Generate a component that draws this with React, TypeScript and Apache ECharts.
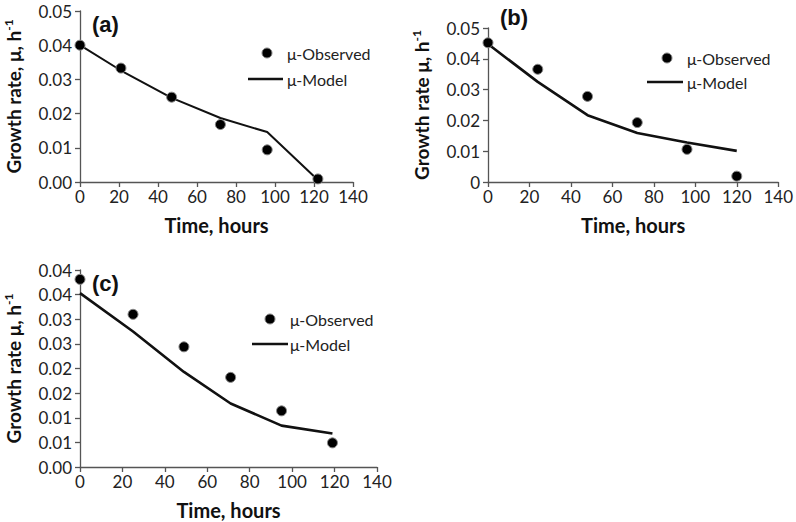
import React, { useEffect, useRef } from 'react';
import * as echarts from 'echarts';

// Panel (a)
const timeA = [0, 21, 47, 72, 96, 122];
const obsA = [0.04, 0.0333, 0.0248, 0.0168, 0.0094, 0.0009];
const modelA = [0.04, 0.0326, 0.0246, 0.0187, 0.0146, 0.0006];
// Panel (b)
const timeB = [0, 24, 48, 72, 96, 120];
const obsB = [0.0452, 0.0366, 0.0278, 0.0193, 0.0106, 0.0019];
const modelB = [0.0448, 0.0325, 0.0217, 0.0159, 0.0128, 0.0101];
// Panel (c)
const timeC = [0, 25, 49, 71, 95, 119];
const obsC = [0.0381, 0.031, 0.0244, 0.0182, 0.0114, 0.0049];
const modelC = [0.0353, 0.0275, 0.0193, 0.0129, 0.0084, 0.0068];

const panelLabels = ['(a)', '(b)', '(c)'];
const yTitles = ['Growth rate, μ, h{sup|-1}', 'Growth rate μ, h{sup|-1}', 'Growth rate μ, h{sup|-1}'];
const xTitle = 'Time, hours';
const obsName = 'μ-Observed';
const modelName = 'μ-Model';

const FONT = 'Lato';
const AXIS_COLOR = '#555';
const TEXT_COLOR = '#222';

function pairs(xs: number[], ys: number[]) {
  return xs.map((x, i) => [x, ys[i]]);
}

function fmt2(v: number) {
  return (Math.round(v * 100 + 1e-9) / 100).toFixed(2);
}

function xAxisFor(gridIndex: number) {
  return {
    type: 'value',
    gridIndex,
    min: 0,
    max: 140,
    interval: 20,
    name: xTitle,
    nameLocation: 'middle',
    nameGap: 33,
    nameTextStyle: { fontFamily: FONT, fontWeight: 'bold', fontSize: 20, color: '#111' },
    axisLine: { show: true, lineStyle: { color: AXIS_COLOR, width: 1.3 } },
    axisTick: { show: true, length: 5, lineStyle: { color: AXIS_COLOR, width: 1.3 } },
    axisLabel: { fontFamily: FONT, fontSize: 17, color: TEXT_COLOR, margin: 6 },
    splitLine: { show: false },
  };
}

function yAxisFor(gridIndex: number, max: number, interval: number, formatter: (v: number) => string) {
  return {
    type: 'value',
    gridIndex,
    min: 0,
    max,
    interval,
    name: yTitles[gridIndex],
    nameLocation: 'middle',
    nameGap: 56,
    nameTextStyle: {
      fontFamily: FONT,
      fontWeight: 'bold',
      fontSize: 19,
      color: '#111',
      rich: {
        sup: { fontFamily: FONT, fontWeight: 'bold', fontSize: 12, color: '#111', verticalAlign: 'top', lineHeight: 22 },
      },
    },
    axisLine: { show: true, lineStyle: { color: AXIS_COLOR, width: 1.3 } },
    axisTick: { show: true, length: 5, lineStyle: { color: AXIS_COLOR, width: 1.3 } },
    axisLabel: { fontFamily: FONT, fontSize: 17, color: TEXT_COLOR, margin: 8, formatter },
    splitLine: { show: false },
  };
}

function scatterSeries(idx: number, xs: number[], ys: number[]) {
  return {
    type: 'scatter',
    name: obsName,
    xAxisIndex: idx,
    yAxisIndex: idx,
    data: pairs(xs, ys),
    symbol: 'circle',
    symbolSize: 10,
    itemStyle: { color: '#000', borderColor: '#888', borderWidth: 1, opacity: 1 },
    z: 3,
  };
}

function lineSeries(idx: number, xs: number[], ys: number[], width: number) {
  return {
    type: 'line',
    name: modelName,
    xAxisIndex: idx,
    yAxisIndex: idx,
    data: pairs(xs, ys),
    symbol: 'none',
    lineStyle: { color: '#111', width },
    z: 2,
  };
}

function legendGraphics(cx: number, cy: number, x1: number, x2: number, ly: number, tx: number) {
  return [
    { type: 'circle', shape: { cx, cy, r: 5 }, style: { fill: '#000', stroke: '#888', lineWidth: 1 } },
    { type: 'text', x: tx, y: cy, style: { text: obsName, fontFamily: FONT, fontSize: 16, fill: TEXT_COLOR, verticalAlign: 'middle', align: 'left' } },
    { type: 'line', shape: { x1, y1: ly, x2, y2: ly }, style: { stroke: '#111', lineWidth: 2.5 } },
    { type: 'text', x: tx, y: ly, style: { text: modelName, fontFamily: FONT, fontSize: 16, fill: TEXT_COLOR, verticalAlign: 'middle', align: 'left' } },
  ];
}

function panelLabel(text: string, x: number, y: number) {
  return {
    type: 'text',
    x,
    y,
    style: { text, fontFamily: 'Liberation Sans', fontWeight: 'bold', fontSize: 22, fill: '#111', verticalAlign: 'middle', align: 'left' },
  };
}

export default function App() {
  const ref = useRef<HTMLDivElement>(null);
  useEffect(() => {
    if (!ref.current) return;
    const chart = echarts.init(ref.current, null, { renderer: 'svg' });
    chart.setOption({
      animation: false,
      backgroundColor: '#fff',
      textStyle: { fontFamily: FONT },
      grid: [
        { left: 80, top: 11, width: 273, height: 171 },
        { left: 488, top: 28, width: 292, height: 154 },
        { left: 80, top: 270, width: 297, height: 197 },
      ],
      xAxis: [xAxisFor(0), xAxisFor(1), xAxisFor(2)],
      yAxis: [
        yAxisFor(0, 0.05, 0.01, (v: number) => fmt2(v)),
        yAxisFor(1, 0.05, 0.01, (v: number) => (Math.abs(v) < 1e-9 ? '0' : fmt2(v))),
        yAxisFor(2, 0.04, 0.005, (v: number) => fmt2(v)),
      ],
      series: [
        lineSeries(0, timeA, modelA, 2),
        scatterSeries(0, timeA, obsA),
        lineSeries(1, timeB, modelB, 2.6),
        scatterSeries(1, timeB, obsB),
        lineSeries(2, timeC, modelC, 2.6),
        scatterSeries(2, timeC, obsC),
      ],
      graphic: [
        panelLabel(panelLabels[0], 92, 24),
        panelLabel(panelLabels[1], 500, 17),
        panelLabel(panelLabels[2], 92, 283),
        ...legendGraphics(267, 53, 248, 283, 79, 287),
        ...legendGraphics(667, 58, 647, 683, 82, 687),
        ...legendGraphics(270, 319, 252, 288, 344, 290),
      ],
    });
    return () => chart.dispose();
  }, []);
  return (
    <div
      ref={ref}
      style={{ position: 'absolute', left: 0, top: 0, width: 796, height: 522, background: '#fff' }}
    />
  );
}
